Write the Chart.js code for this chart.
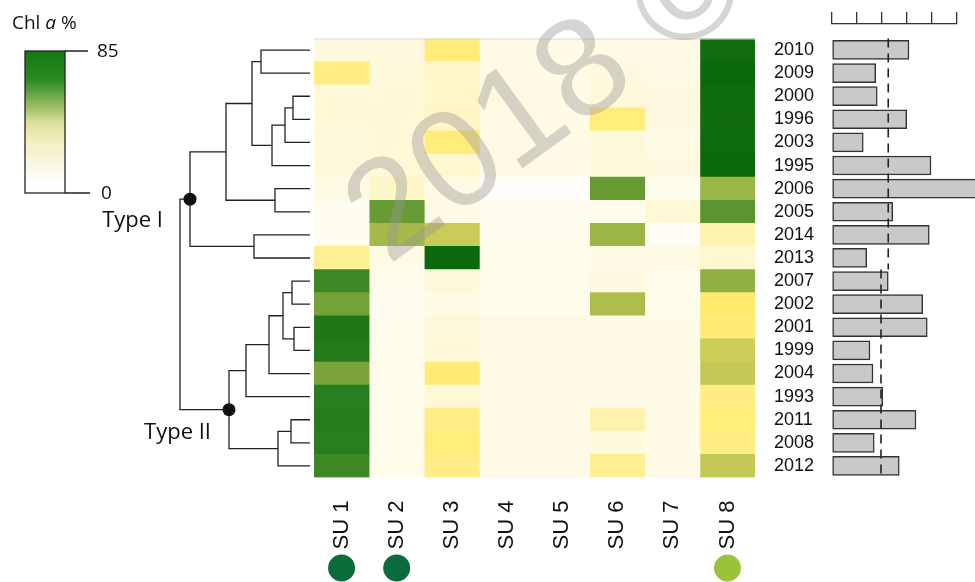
<!DOCTYPE html>
<html>
<head>
<script src="https://cdn.jsdelivr.net/npm/chart.js@4.4.0/dist/chart.umd.min.js"></script>
<style>
  body { margin: 0; background: #fff; }
  #wrap { position: relative; width: 975px; height: 582px; }
  #wrap canvas { position: absolute; left: 0; top: 0; }
</style>
</head>
<body>
<div id="wrap">
  <canvas id="heat" width="975" height="582"></canvas>
  <canvas id="tree" width="975" height="582"></canvas>
  <canvas id="bars" width="975" height="582"></canvas>
</div>
<script>
// rows, top to bottom (dendrogram order)
const years = ['2010','2009','2000','1996','2003','1995','2006','2005','2014','2013',
               '2007','2002','2001','1999','2004','1993','2011','2008','2012'];
const units = ['SU 1','SU 2','SU 3','SU 4','SU 5','SU 6','SU 7','SU 8'];

// Chl a % per sampling unit (one value per row)
const su1 = [7, 25, 9, 9, 8, 8, 6, 3, 3, 22, 68, 58, 76, 74, 57, 72, 73, 72, 68];
const su2 = [7, 8, 9, 9, 9, 9, 14, 60, 49, 5, 4, 3, 4, 4, 4, 4, 4, 4, 4];
const su3 = [26, 13, 13, 14, 26, 12, 6, 5, 41, 85, 8, 6, 8, 9, 27, 10, 24, 26, 24];
const su4 = [6, 6, 6, 6, 6, 6, 1, 3, 3, 4, 4, 4, 6, 6, 5, 5, 5, 5, 5];
const su5 = [5, 5, 5, 5, 5, 5, 1, 3, 3, 4, 4, 4, 6, 6, 5, 5, 5, 5, 5];
const su6 = [6, 7, 8, 26, 8, 8, 60, 4, 51, 5, 7, 47, 6, 5, 5, 5, 18, 8, 22];
const su7 = [6, 6, 7, 7, 6, 7, 4, 10, 2, 6, 4, 4, 5, 5, 5, 5, 5, 5, 5];
const su8 = [82, 85, 84, 83, 84, 85, 51, 63, 18, 12, 53, 28, 27, 40, 42, 25, 26, 25, 42];
const heatCols = [su1, su2, su3, su4, su5, su6, su7, su8];

// markers under some units
const unitMarkers = ['#0b6b3b', '#0b6b3b', null, null, null, null, null, '#9cc23a'];

// right-hand bars and the two group means
const barValues = [30.8, 17.5, 18.1, 29.9, 12.5, 39.6, 60, 24.3, 38.9, 13.9,
                   22.5, 36.3, 38.1, 15.2, 16.4, 20.3, 33.6, 16.9, 26.9];
const groupRows = [[-0.5, 9.5], [9.5, 18.5]];
const groupMeans = [22.5, 19.6];

// dendrogram merges: [a, b, height]; 'nK' = result of merge K
const dendroMerges = [
  ['2010', '2009', 49], ['2000', '1996', 17], ['n1', '2003', 25], ['n2', '1995', 38],
  ['n0', 'n3', 58], ['2006', '2005', 35], ['n4', 'n5', 84], ['2014', '2013', 56],
  ['n6', 'n7', 120],
  ['2007', '2002', 18], ['2001', '1999', 16], ['n9', 'n10', 27], ['n11', '2004', 41],
  ['n12', '1993', 64], ['2011', '2008', 19], ['n14', '2012', 32], ['n13', 'n15', 81],
  ['n8', 'n16', 130]
];
const typeNodes = [{ node: 'n8', text: 'Type I', dx: -27, dy: 28 },
                   { node: 'n16', text: 'Type II', dx: -18, dy: 29 }];

const cmapStops = [[0, [255, 255, 255]], [5, [255, 251, 230]], [15, [255, 245, 195]],
  [28, [255, 234, 110]], [40, [205, 205, 90]], [50, [160, 184, 72]], [60, [105, 155, 52]],
  [72, [40, 125, 30]], [85, [10, 105, 10]]];
function cmap(v) {
  for (let i = 1; i < cmapStops.length; i++) {
    const [v1, c1] = cmapStops[i];
    const [v0, c0] = cmapStops[i - 1];
    if (v <= v1) {
      const t = (v - v0) / (v1 - v0);
      const c = c0.map((x, k) => Math.round(x + (c1[k] - x) * t));
      return `rgb(${c[0]},${c[1]},${c[2]})`;
    }
  }
  return 'rgb(10,105,10)';
}

const noPad = (s) => { s.paddingTop = 0; s.paddingBottom = 0; s.paddingLeft = 0; s.paddingRight = 0; };
const base = {
  responsive: false,
  animation: false,
  events: [],
  plugins: { legend: { display: false }, tooltip: { enabled: false } }
};

// ---------- heatmap ----------
const heatExtras = {
  id: 'heatExtras',
  afterDraw(chart) {
    const ctx = chart.ctx, a = chart.chartArea, xs = chart.scales.x;
    ctx.save();
    ctx.strokeStyle = '#d6d6d6';
    ctx.lineWidth = 1;
    ctx.beginPath();
    ctx.moveTo(a.left, a.top + 0.5);
    ctx.lineTo(a.right, a.top + 0.5);
    ctx.stroke();
    unitMarkers.forEach((c, i) => {
      if (!c) return;
      ctx.fillStyle = c;
      ctx.beginPath();
      ctx.arc(xs.getPixelForValue(i + 0.5), 568, 13.5, 0, Math.PI * 2);
      ctx.fill();
    });
    ctx.restore();
  }
};

new Chart(document.getElementById('heat'), {
  type: 'bar',
  data: {
    labels: years,
    datasets: heatCols.map((col, i) => ({
      label: units[i],
      data: col.map(() => 1),
      backgroundColor: col.map(cmap),
      borderWidth: 0,
      barPercentage: 1,
      categoryPercentage: 1
    }))
  },
  options: {
    ...base,
    indexAxis: 'y',
    layout: { padding: { left: 314, right: 160, top: 38.5, bottom: 14.5 } },
    scales: {
      x: {
        type: 'linear', stacked: true, min: 0, max: 8, position: 'bottom',
        grid: { display: false }, border: { display: false },
        afterBuildTicks: (s) => { s.ticks = units.map((u, i) => ({ value: i + 0.5 })); },
        ticks: {
          autoSkip: false, minRotation: 90, maxRotation: 90, padding: 15, color: '#111',
          font: { family: 'Liberation Sans, Arial', size: 22 },
          callback: (v, i) => units[i]
        },
        afterFit: (s) => { s.height = 90; noPad(s); }
      },
      y: {
        type: 'category', stacked: true, position: 'right',
        grid: { display: false }, border: { display: false },
        ticks: { autoSkip: false, padding: 11, color: '#111',
                 font: { family: 'Liberation Sans, Arial', size: 18 } },
        afterFit: (s) => { s.width = 60; noPad(s); }
      }
    }
  },
  plugins: [heatExtras]
});

// ---------- dendrogram + colour key ----------
const nodes = {};
years.forEach((y, i) => { nodes[y] = { h: 0, y: i }; });
const treeSets = dendroMerges.map((m, k) => {
  const a = nodes[m[0]], b = nodes[m[1]];
  const n = { h: m[2], y: (a.y + b.y) / 2 };
  nodes['n' + k] = n;
  return {
    data: [{ x: a.h, y: a.y }, { x: n.h, y: a.y }, { x: n.h, y: b.y }, { x: b.h, y: b.y }],
    showLine: true, borderColor: '#222', borderWidth: 1.3, pointRadius: 0, clip: false
  };
});
treeSets.unshift({
  data: typeNodes.map((t) => ({ x: nodes[t.node].h, y: nodes[t.node].y })),
  pointRadius: 6.5, pointBackgroundColor: '#111', pointBorderWidth: 0, showLine: false, clip: false
});

const treeExtras = {
  id: 'treeExtras',
  afterDraw(chart) {
    const ctx = chart.ctx, xs = chart.scales.x, ys = chart.scales.y;
    ctx.save();
    ctx.fillStyle = '#111';
    ctx.font = '22px "Open Sans"';
    ctx.textAlign = 'right';
    ctx.textBaseline = 'alphabetic';
    typeNodes.forEach((t) => {
      const n = nodes[t.node];
      ctx.fillText(t.text, xs.getPixelForValue(n.h) + t.dx, ys.getPixelForValue(n.y) + t.dy);
    });

    // colour key
    const x0 = 25, x1 = 65, y0 = 51, y1 = 193;
    const g = ctx.createLinearGradient(0, y0, 0, y1);
    [[0, '#137a13'], [0.2, '#2a8a22'], [0.36, '#86b458'], [0.5, '#dcdf9c'],
     [0.64, '#f2f0c0'], [0.82, '#f8f8e8'], [0.93, '#ffffff'], [1, '#ffffff']]
      .forEach(([p, c]) => g.addColorStop(p, c));
    ctx.fillStyle = g;
    ctx.fillRect(x0, y0, x1 - x0, y1 - y0);
    ctx.strokeStyle = '#222';
    ctx.lineWidth = 1.3;
    ctx.strokeRect(x0, y0, x1 - x0, y1 - y0);
    ctx.beginPath();
    ctx.moveTo(x1, y0); ctx.lineTo(88, y0);
    ctx.moveTo(x1, y1); ctx.lineTo(90, y1);
    ctx.stroke();
    ctx.fillStyle = '#111';
    ctx.textAlign = 'left';
    ctx.textBaseline = 'middle';
    ctx.font = '19px "Open Sans"';
    ctx.fillText('85', 97, y0 + 1);
    ctx.fillText('0', 101, y1 + 1);

    ctx.textBaseline = 'alphabetic';
    let x = 12;
    ctx.fillText('Chl ', x, 29);
    x += ctx.measureText('Chl ').width;
    ctx.font = 'italic 19px "Open Sans"';
    ctx.fillText('a', x, 29);
    x += ctx.measureText('a').width;
    ctx.font = '19px "Open Sans"';
    ctx.fillText(' %', x, 29);
    ctx.restore();
  }
};

new Chart(document.getElementById('tree'), {
  type: 'scatter',
  data: { datasets: treeSets },
  options: {
    ...base,
    layout: { padding: { left: 180, right: 665, top: 38.5, bottom: 104.5 } },
    scales: {
      x: { type: 'linear', min: 0, max: 130, reverse: true, display: false },
      y: { type: 'linear', min: -0.5, max: 18.5, reverse: true, display: false }
    }
  },
  plugins: [treeExtras]
});

// ---------- bars ----------
const watermark = {
  id: 'watermark',
  afterDraw(chart) {
    const ctx = chart.ctx;
    ctx.save();
    ctx.translate(388, 266);
    ctx.rotate(-36 * Math.PI / 180);
    ctx.font = '140px "Liberation Sans", Arial';
    ctx.fillStyle = 'rgba(150,150,150,0.4)';
    ctx.textBaseline = 'alphabetic';
    ctx.fillText('2018 \u00a9', 0, 0);
    ctx.restore();
  }
};

new Chart(document.getElementById('bars'), {
  type: 'bar',
  data: {
    datasets: [
      ...groupMeans.map((m, g) => ({
        type: 'line',
        data: [{ x: m, y: groupRows[g][0] }, { x: m, y: groupRows[g][1] }],
        borderColor: '#222', borderWidth: 1.6, borderDash: [9, 6],
        pointRadius: 0, order: 0, clip: false
      })),
      {
        type: 'bar',
        data: years.map((yr, i) => ({ x: barValues[i], y: i })),
        backgroundColor: '#c9c9c9', borderColor: '#333', borderWidth: 1.5,
        borderSkipped: false, barThickness: 19, order: 1, clip: false
      }
    ]
  },
  options: {
    ...base,
    indexAxis: 'y',
    layout: { padding: { left: 832, right: 18, top: 12, bottom: 104.5 } },
    scales: {
      x: {
        type: 'linear', position: 'top', min: 0, max: 50, offset: false,
        ticks: { display: false, stepSize: 10 },
        grid: { drawOnChartArea: false, color: '#333', lineWidth: 1.3, tickLength: 12, offset: false },
        border: { color: '#333', width: 1.3 },
        afterFit: (s) => { s.height = 12; noPad(s); }
      },
      y: {
        type: 'linear', min: -1.123, max: 18.5, reverse: true, display: false,
        offset: false, grid: { offset: false },
        afterFit: (s) => { noPad(s); }
      }
    }
  },
  plugins: [watermark]
});
</script>
</body>
</html>
